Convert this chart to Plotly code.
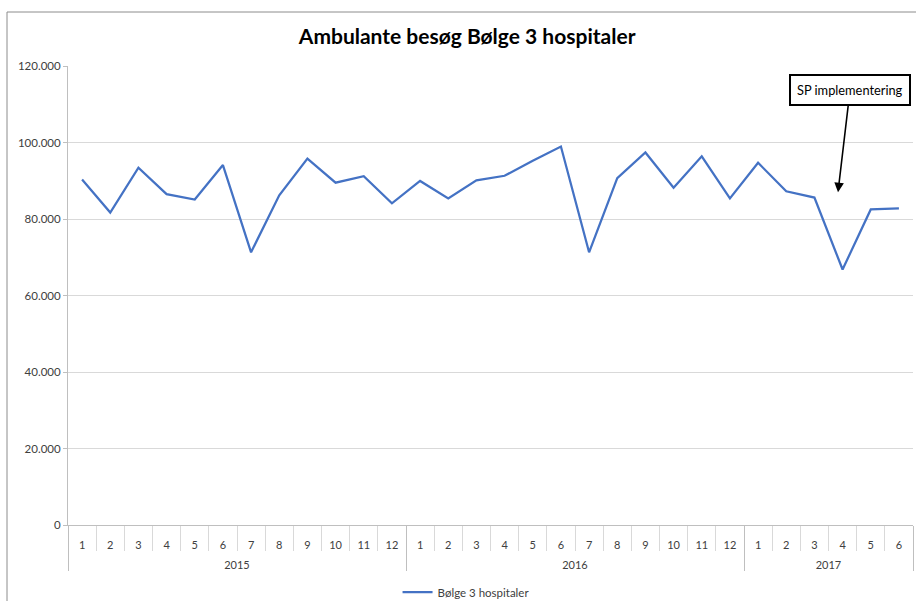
import plotly.graph_objects as go

years = ["2015"] * 12 + ["2016"] * 12 + ["2017"] * 6
months = ["1", "2", "3", "4", "5", "6", "7", "8", "9", "10", "11", "12",
          "1", "2", "3", "4", "5", "6", "7", "8", "9", "10", "11", "12",
          "1", "2", "3", "4", "5", "6"]
values = [90350, 81700, 93400, 86500, 85100, 94100, 71300, 86200, 95800, 89500, 91200, 84100,
          89950, 85400, 90100, 91300, 95250, 98950, 71300, 90700, 97400, 88200, 96400, 85400,
          94700, 87250, 85600, 66800, 82500, 82750]
series_name = "Bølge 3 hospitaler"
title_text = "Ambulante besøg Bølge 3 hospitaler"
y_tickvals = [0, 20000, 40000, 60000, 80000, 100000, 120000]
y_ticktext = ["0", "20.000", "40.000", "60.000", "80.000", "100.000", "120.000"]
note_text = "SP implementering"

FONT = "Lato"
# leading line break pushes the year row further below the month row
year_labels = ["<br>" + y for y in years]

fig = go.Figure()
fig.add_trace(go.Scatter(
    x=[year_labels, months], y=values, mode="lines", name=series_name,
    line=dict(color="#4472C4", width=2.25), showlegend=True,
))

n = len(values)
fig.update_layout(
    width=916, height=601,
    margin=dict(l=68, r=3, t=66, b=76, autoexpand=False),
    paper_bgcolor="white", plot_bgcolor="white",
    font=dict(family=FONT, size=11, color="#595959"),
    title=dict(text="<b>" + title_text + "</b>", x=0.51, xanchor="center",
               y=1 - 37 / 601, yanchor="middle",
               font=dict(family=FONT, size=21, color="#000000")),
    showlegend=True,
    legend=dict(orientation="h", x=0.39, xanchor="left",
                yref="container", y=1 - 592 / 601, yanchor="middle",
                font=dict(family=FONT, size=11.5, color="#404040"),
                bgcolor="rgba(0,0,0,0)"),
)
fig.update_xaxes(
    type="multicategory", range=[-0.5, n - 0.5], automargin=False,
    showgrid=False, showline=True, linecolor="#BFBFBF", linewidth=1,
    ticks="outside", tickson="boundaries", ticklen=25, tickcolor="#D9D9D9",
    ticklabelstandoff=10,
    showdividers=True, dividercolor="#BFBFBF", dividerwidth=1,
    tickfont=dict(family=FONT, size=11, color="#404040"),
)
fig.update_yaxes(
    range=[0, 120000], tickvals=y_tickvals, ticktext=y_ticktext, automargin=False,
    showgrid=True, gridcolor="#D9D9D9", gridwidth=1,
    showline=True, linecolor="#BFBFBF", linewidth=1,
    ticks="outside", ticklen=4, tickcolor="#BFBFBF",
    zeroline=False, tickfont=dict(family=FONT, size=11.5, color="#404040"),
)

# chart border (right edge lies outside the picture, as in the reference)
fig.add_shape(type="rect", xref="paper", yref="paper",
              x0=(7 - 68) / 845, x1=(930 - 68) / 845,
              y0=(525 - 610) / 459, y1=(525 - 12) / 459,
              line=dict(color="#8C8C8C", width=1), fillcolor="rgba(0,0,0,0)", layer="below")

fig.add_annotation(
    xref="paper", yref="y", x=(838 - 68) / 845, y=87000,
    ax=12, ay=-102, text=note_text, showarrow=True,
    arrowhead=2, arrowsize=1.2, arrowwidth=1.6, arrowcolor="#000000",
    bordercolor="#000000", borderwidth=2, borderpad=6, bgcolor="white",
    font=dict(family=FONT, size=12.8, color="#000000"),
)

fig.write_html("out.html", config={"displayModeBar": False},
               post_script="document.body.style.margin='0';")
